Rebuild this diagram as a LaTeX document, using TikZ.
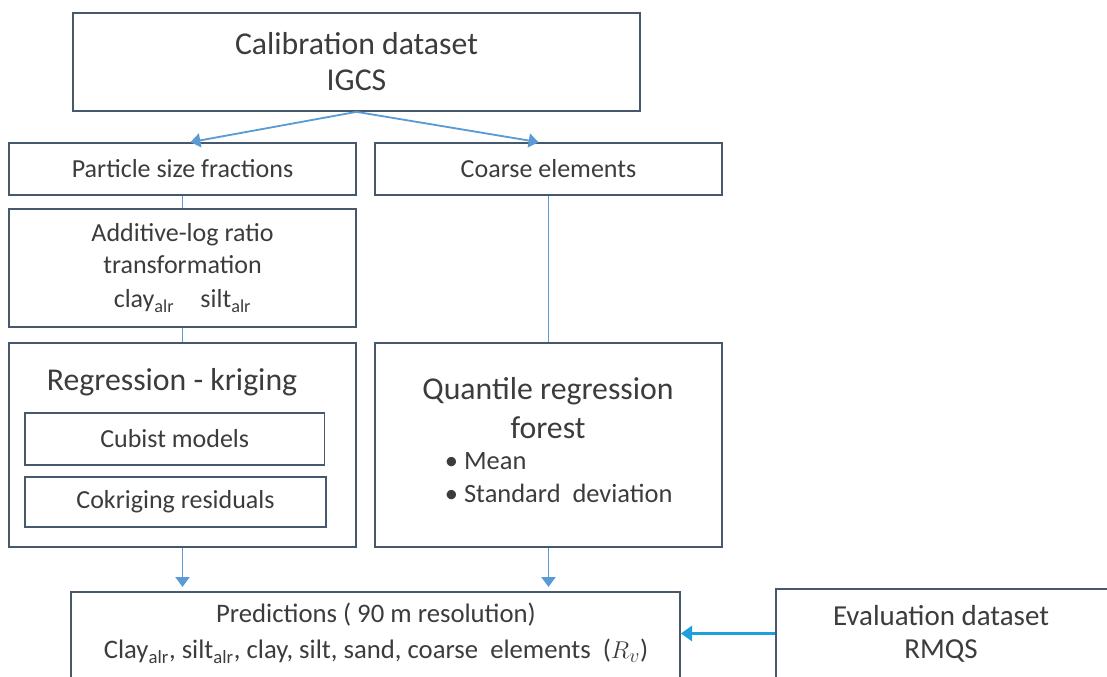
\documentclass[tikz,border=0pt]{standalone}
\usepackage{fontspec}
\setmainfont{Carlito}
\usepackage{xcolor}
\usetikzlibrary{calc, arrows.meta}
\definecolor{boxcol}{RGB}{72,88,108}
\definecolor{linkcol}{RGB}{91,155,213}
\definecolor{evcol}{RGB}{30,160,220}
\definecolor{txtcol}{RGB}{60,60,60}
\begin{document}
\begin{tikzpicture}
    [x=0.025cm, y=-0.025cm,
    box/.style={rectangle, draw=boxcol, line width=1.2pt, inner sep=0pt, text=txtcol, align=center},
    bigtxt/.style={font=\fontsize{22.6}{25.6}\selectfont, text=txtcol},
    normtxt/.style={font=\fontsize{18.5}{21}\selectfont, text=txtcol},
    link/.style={draw=linkcol, line width=1.3pt, -{Triangle[width=10pt,length=7pt]}},
    evlink/.style={draw=evcol, line width=1.5pt, -{Triangle[width=11pt,length=8pt]}}]
\useasboundingbox (0,0) rectangle (1107,677);
\clip (0,0) rectangle (1107,677);
% top
\node[box, bigtxt, minimum width=14.175cm, minimum height=2.45cm] (calib) at (356.5,62) {Calibration dataset\\IGCS};
\node[box, normtxt, minimum width=8.675cm, minimum height=1.3cm] (psf) at (182.5,169) {Particle size fractions};
\node[box, normtxt, minimum width=8.675cm, minimum height=1.3cm] (coarse) at (548.5,169) {Coarse elements};
\draw[link] (calib.south) -- ($(psf.north)+(8,0)$);
\draw[link] (calib.south) -- ($(coarse.north)-(10,0)$);
% left branch
\node[box, font=\fontsize{18.5}{22.5}\selectfont, minimum width=8.675cm, minimum height=2.95cm] (alr) at (182.5,268)
    {Additive-log ratio\\transformation\\[2pt]clay\textsubscript{alr}\quad silt\textsubscript{alr}};
\node[box, minimum width=8.675cm, minimum height=5.1cm] (rk) at (182.5,445) {};
\node[bigtxt] (rktitle) at (172,382) {Regression - kriging};
\node[box, normtxt, minimum width=7.49cm, minimum height=1.3cm] (cubist) at (174.75,439) {Cubist models};
\node[box, normtxt, minimum width=7.525cm, minimum height=1.25cm] (cokrig) at (175.5,502) {Cokriging residuals};
\draw[draw=linkcol, line width=1.3pt] (psf.south) -- (alr.north);
\draw[draw=linkcol, line width=1.3pt] (alr.south) -- (rk.north);
% right branch
\node[box, minimum width=8.675cm, minimum height=5.1cm] (qrf) at (548.5,445) {};
\node[bigtxt, align=center, font=\fontsize{22.6}{27.7}\selectfont] (qrftitle) at (548,408) {Quantile regression\\forest};
\node[normtxt, align=left, anchor=west, font=\fontsize{18.8}{23.5}\selectfont] (qrfstats) at (440,478) {\textbullet\ Mean\\\textbullet\ Standard\ \ deviation};
\draw[draw=linkcol, line width=1.3pt] (coarse.south) -- (qrf.north);
% bottom
\node[box, minimum width=15.225cm, minimum height=3.2cm] (pred) at (375.5,656) {};
\node[normtxt, align=center, font=\fontsize{19}{25.6}\selectfont] (predtxt) at (376,633)
    {Predictions ( 90 m resolution)\\Clay\textsubscript{alr}, silt\textsubscript{alr}, clay, silt, sand, coarse\ \ elements\ \ ($R_v$)};
\node[box, minimum width=8.85cm, minimum height=3.275cm] (eval) at (953,654.5) {};
\node[align=center, text=txtcol, font=\fontsize{20.6}{23.5}\selectfont] (evaltxt) at (941,633.5) {Evaluation dataset\\RMQS};
\draw[link, shorten >=3pt] (rk.south) -- (rk.south |- pred.north);
\draw[link, shorten >=3pt] (qrf.south) -- (qrf.south |- pred.north);
\draw[evlink] (eval.west |- evaltxt) -- (pred.east |- evaltxt);
\end{tikzpicture}
\end{document}
